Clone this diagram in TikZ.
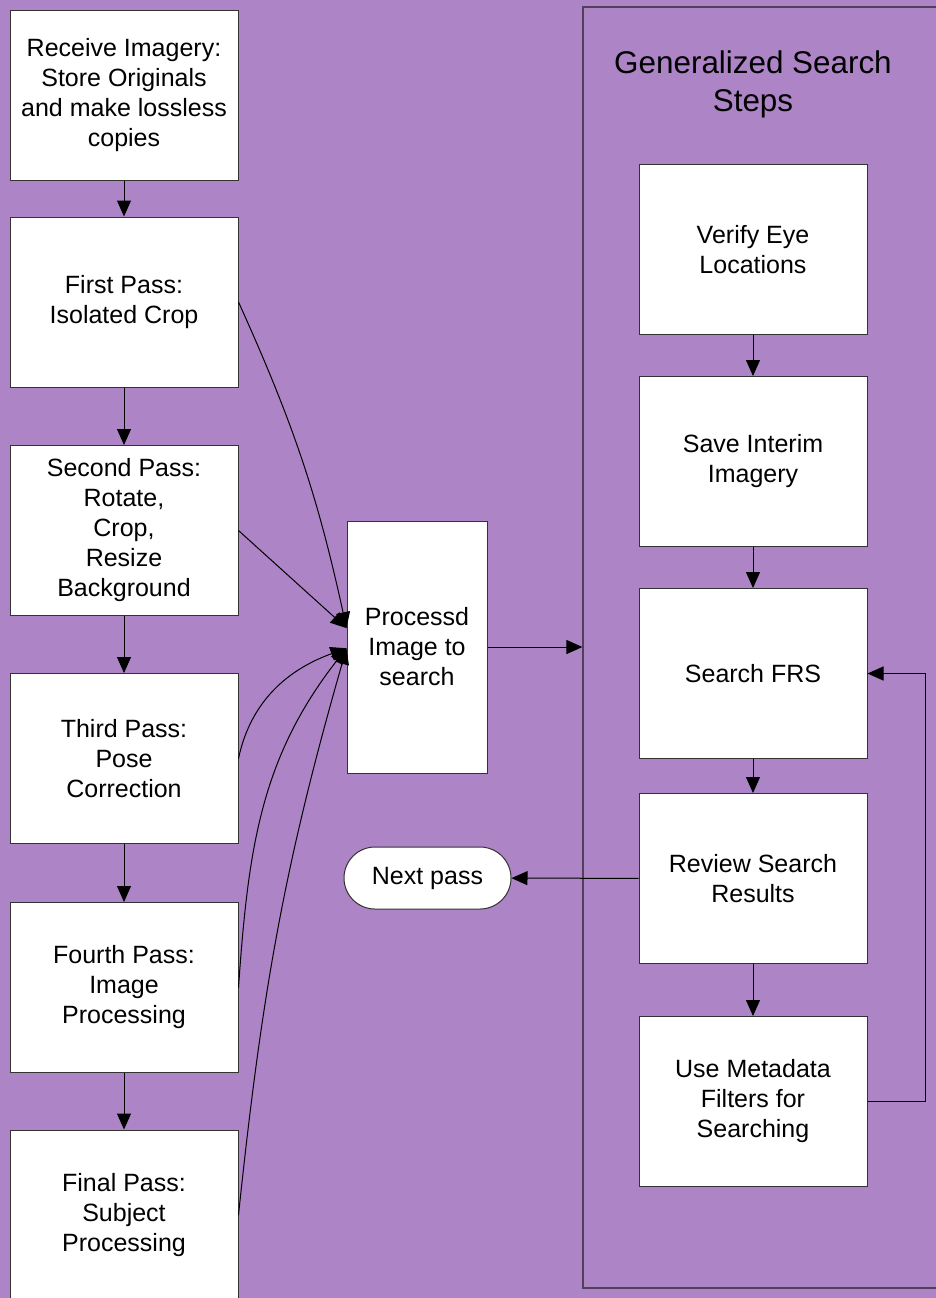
\documentclass[tikz,border=0pt]{standalone}
\usepackage{fontspec}
\setmainfont{Liberation Sans}
\usetikzlibrary{arrows.meta}
\definecolor{bgpurple}{RGB}{173,132,198}
\definecolor{grpline}{RGB}{80,64,92}
\begin{document}
\begin{tikzpicture}[x=0.5pt, y=-0.5pt,
    main/.style = {draw=black!80, fill=white, line width=0.5pt, align=center,
      minimum width=114pt, minimum height=85pt, inner sep=0pt,
      font=\fontsize{12.5}{15}\selectfont},
    proc/.style = {main, minimum width=70pt, minimum height=126pt},
    pill/.style = {main, rounded corners=15.5pt, minimum width=83.5pt, minimum height=31pt},
    group/.style = {draw=grpline, line width=0.6pt, inner sep=0pt,
      minimum width=178.5pt, minimum height=640.5pt},
    arr/.style = {line width=0.5pt, -{Triangle[length=8pt, width=7pt]}}]
        \fill[bgpurple] (0, 0) rectangle (936, 1298);
        \useasboundingbox (0, 0) rectangle (936, 1298);

        \node[group] at (761.5, 647.5) (grp) {};
        \node[align=center, font=\fontsize{15.7}{19}\selectfont] at (753, 84) (title)
          {Generalized Search\\Steps};

        \node[main] at (124, 95) (recv) {Receive Imagery:\\Store Originals\\and make lossless\\copies};
        \node[main] at (124, 302) (first) {First Pass:\\Isolated Crop};
        \node[main] at (124, 530.5) (second) {Second Pass:\\Rotate,\\Crop,\\Resize\\Background};
        \node[main] at (124, 758.5) (third) {Third Pass:\\Pose\\Correction};
        \node[main] at (124, 987.5) (fourth) {Fourth Pass:\\Image\\Processing};
        \node[main] at (124, 1215) (final) {Final Pass:\\Subject\\Processing};

        \node[proc] at (417, 647) (imgsearch) {Processd\\Image to\\search};
        \node[pill] at (427.5, 878) (next) {Next pass};

        \node[main] at (753, 249.5) (verify) {Verify Eye\\Locations};
        \node[main] at (753, 461.5) (save) {Save Interim\\Imagery};
        \node[main] at (753, 673.5) (frs) {Search FRS};
        \node[main] at (753, 878.5) (review) {Review Search\\Results};
        \node[main] at (753, 1101.5) (meta) {Use Metadata\\Filters for\\Searching};

        \draw [arr] (recv) -- (first);
        \draw [arr] (first) -- (second);
        \draw [arr] (second) -- (third);
        \draw [arr] (third) -- (fourth);
        \draw [arr] (fourth) -- (final);

        \draw [arr] (first.east) to[bend left=6] (imgsearch.165);
        \draw [arr] (second.east) -- (imgsearch.165);
        \draw [arr] (third.east) to[out=78, in=200] (imgsearch.181);
        \draw [arr] (fourth.east) to[out=86, in=232] (imgsearch.181);
        \draw [arr] (final.east) to[out=84, in=254] (imgsearch.181);

        \draw [arr] (imgsearch) -- (grp.west |- imgsearch);

        \draw [arr] (verify) -- (save);
        \draw [arr] (save) -- (frs);
        \draw [arr] (frs) -- (review);
        \draw [arr] (review) -- (meta);
        \draw [arr] (review) -- (next);
        \draw [arr] (meta.east) -- ++(58, 0) |- (frs.east);
\end{tikzpicture}
\end{document}
